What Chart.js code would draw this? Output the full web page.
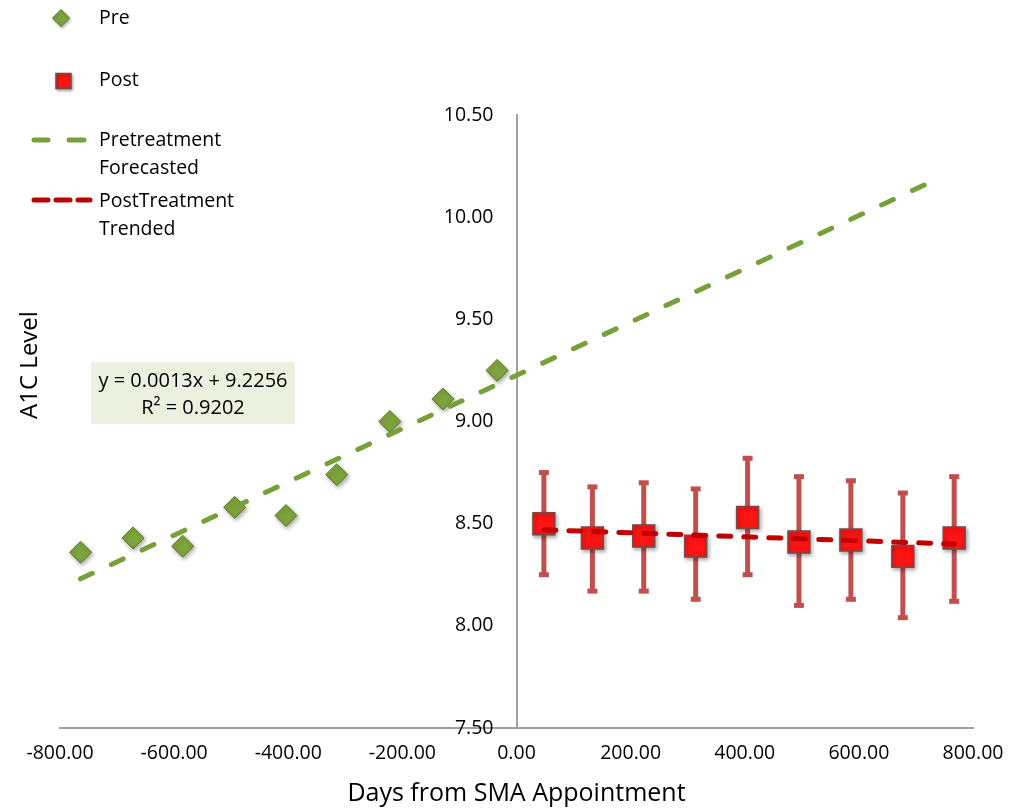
<!DOCTYPE html>
<html><head><meta charset="utf-8">
<script src="https://cdn.jsdelivr.net/npm/chart.js@4.4.1/dist/chart.umd.min.js"></script>
<style>html,body{margin:0;padding:0;background:#fff;} #wrap{position:relative;width:1009px;height:809px;}</style>
</head><body><div id="wrap"><canvas id="c" width="1009" height="809"></canvas></div>
<script>
// ---- data ----
const preDays = [-764, -672, -585, -494, -404, -315, -222, -129, -34];
const preA1C  = [8.36, 8.43, 8.39, 8.58, 8.54, 8.74, 9.00, 9.11, 9.25];
const postDays = [48, 133, 223, 314, 405, 495, 586, 677, 767];
const postA1C  = [8.50, 8.43, 8.44, 8.39, 8.53, 8.41, 8.42, 8.34, 8.43];
const postHigh = [8.75, 8.68, 8.70, 8.67, 8.82, 8.73, 8.71, 8.65, 8.73];
const postLow  = [8.25, 8.17, 8.17, 8.13, 8.25, 8.10, 8.13, 8.04, 8.12];
const preTrendDays = [-764, 732];
const preTrendA1C  = [8.23, 10.18];
const postTrendDays = [48, 767];
const postTrendA1C  = [8.47, 8.40];
const xTicks = [-800, -600, -400, -200, 0, 200, 400, 600, 800];
const yTicks = [7.5, 8.0, 8.5, 9.0, 9.5, 10.0, 10.5];
const legendLabels = [["Pre"], ["Post"], ["Pretreatment", "Forecasted"], ["PostTreatment", "Trended"]];
const equationLines = ["y = 0.0013x + 9.2256", "R² = 0.9202"];
const xTitle = "Days from SMA Appointment";
const yTitle = "A1C Level";

const FONT = "'Open Sans', 'DejaVu Sans', sans-serif";
const GREEN = '#7EA43C', GREEN_BORDER = '#5B7A27';
const RED = '#FF1414', RED_BORDER = '#7A4848';
const ERR = '#C0504D';
const GREEN_LINE = '#77A03A', RED_LINE = '#C00000';

const pts = (xs, ys) => xs.map((v, i) => ({x: v, y: ys[i]}));

const errorBars = {
  id: 'errorBars',
  beforeDatasetsDraw(chart) {
    const {ctx, scales: {x, y}} = chart;
    ctx.save();
    ctx.strokeStyle = ERR; ctx.fillStyle = ERR; ctx.lineWidth = 5;
    postDays.forEach((d, i) => {
      const px = x.getPixelForValue(d);
      const pt = y.getPixelForValue(postHigh[i]);
      const pb = y.getPixelForValue(postLow[i]);
      ctx.beginPath(); ctx.moveTo(px, pt); ctx.lineTo(px, pb); ctx.stroke();
      ctx.fillRect(px - 5, pt - 2.5, 10, 5);
      ctx.fillRect(px - 5, pb - 2.5, 10, 5);
    });
    ctx.restore();
  }
};

// soft drop shadow under the marker series
const markerShadow = {
  id: 'markerShadow',
  beforeDatasetDraw(chart, args) {
    if (args.index >= 2) {
      const ctx = chart.ctx;
      ctx.save();
      ctx.shadowColor = 'rgba(0,0,0,0.35)';
      ctx.shadowBlur = 4; ctx.shadowOffsetX = 1.5; ctx.shadowOffsetY = 2;
    }
  },
  afterDatasetDraw(chart, args) {
    if (args.index >= 2) chart.ctx.restore();
  }
};

// shift the centred y-axis labels left of the axis line (padding is ignored for object positions)
const yLabelShift = {
  id: 'yLabelShift',
  beforeDraw(chart) {
    const s = chart.scales.y;
    const items = s.getLabelItems(chart.chartArea);
    items.forEach(it => {
      if (!it._shifted) { it.options.translation[0] -= 23; it._shifted = true; }
    });
  }
};

const decorations = {
  id: 'decorations',
  afterDraw(chart) {
    const ctx = chart.ctx;
    ctx.save();
    // equation box
    ctx.fillStyle = '#EBF1DE';
    ctx.fillRect(91, 362, 204, 62);
    ctx.fillStyle = '#000';
    ctx.font = "20px " + FONT;
    ctx.textAlign = 'center'; ctx.textBaseline = 'middle';
    ctx.fillText(equationLines[0], 193, 381);
    ctx.fillText(equationLines[1], 193, 408);
    // y title
    ctx.save();
    ctx.translate(30, 365); ctx.rotate(-Math.PI / 2);
    ctx.font = "24px " + FONT;
    ctx.fillText(yTitle, 0, 0);
    ctx.restore();
    // legend markers (with soft shadow)
    ctx.save();
    ctx.shadowColor = 'rgba(0,0,0,0.35)'; ctx.shadowBlur = 3; ctx.shadowOffsetX = 1; ctx.shadowOffsetY = 1.5;
    ctx.beginPath();
    ctx.moveTo(61, 9.5); ctx.lineTo(69.5, 18); ctx.lineTo(61, 26.5); ctx.lineTo(52.5, 18); ctx.closePath();
    ctx.fillStyle = GREEN; ctx.fill(); ctx.strokeStyle = GREEN_BORDER; ctx.lineWidth = 1; ctx.stroke();
    ctx.fillStyle = RED; ctx.fillRect(56, 73.5, 15, 15);
    ctx.strokeStyle = RED_BORDER; ctx.lineWidth = 1.5; ctx.strokeRect(56, 73.5, 15, 15);
    ctx.restore();
    ctx.lineCap = 'round'; ctx.lineWidth = 5;
    ctx.strokeStyle = GREEN_LINE;
    [[34, 48], [69, 84]].forEach(([a, b]) => { ctx.beginPath(); ctx.moveTo(a, 140); ctx.lineTo(b, 140); ctx.stroke(); });
    ctx.strokeStyle = RED_LINE;
    [[34, 48], [56, 70], [78, 90]].forEach(([a, b]) => { ctx.beginPath(); ctx.moveTo(a, 200); ctx.lineTo(b, 200); ctx.stroke(); });
    // legend texts
    ctx.fillStyle = '#000'; ctx.font = "19.5px " + FONT;
    ctx.textAlign = 'left'; ctx.textBaseline = 'middle';
    const ys = [[18], [80], [140, 168], [201, 229]];
    legendLabels.forEach((lines, i) => lines.forEach((t, j) => ctx.fillText(t, 99, ys[i][j])));
    ctx.restore();
  }
};

new Chart(document.getElementById('c'), {
  type: 'scatter',
  data: {
    datasets: [
      { label: 'PostTreatment Trended', data: pts(postTrendDays, postTrendA1C), showLine: true,
        borderColor: RED_LINE, borderWidth: 5, borderDash: [12, 13], borderCapStyle: 'round',
        pointRadius: 0, fill: false },
      { label: 'Pretreatment Forecasted', data: pts(preTrendDays, preTrendA1C), showLine: true,
        borderColor: GREEN_LINE, borderWidth: 5, borderDash: [13, 21], borderCapStyle: 'round',
        pointRadius: 0, fill: false },
      { label: 'Post', data: pts(postDays, postA1C), pointStyle: 'rect', pointRadius: 15.5,
        backgroundColor: RED, borderColor: RED_BORDER, borderWidth: 1.5 },
      { label: 'Pre', data: pts(preDays, preA1C), pointStyle: 'rectRot', pointRadius: 11,
        backgroundColor: GREEN, borderColor: GREEN_BORDER, borderWidth: 1 }
    ]
  },
  options: {
    responsive: false, animation: false, events: [],
    layout: { padding: { left: 60, right: 36, top: 115, bottom: 0 } },
    plugins: { legend: { display: false }, tooltip: { enabled: false } },
    scales: {
      x: {
        type: 'linear', position: 'bottom', min: -800, max: 800,
        afterBuildTicks: s => { s.ticks = xTicks.map(v => ({value: v})); },
        afterFit: s => { s.height = 81; s.paddingLeft = 0; s.paddingRight = 0; },
        grid: { display: false, drawTicks: false },
        border: { display: true, color: '#A0A0A0', width: 2 },
        ticks: { autoSkip: false, maxRotation: 0, padding: 14, color: '#000',
                 font: { family: FONT, size: 19.5 }, callback: v => Number(v).toFixed(2) },
        title: { display: true, text: xTitle, color: '#000', font: { family: FONT, size: 25 }, padding: 0 }
      },
      y: {
        type: 'linear', position: { x: 0 }, min: 7.5, max: 10.5,
        afterBuildTicks: s => { s.ticks = yTicks.map(v => ({value: v})); },
        afterFit: s => { s.width = 0; s.paddingTop = 0; s.paddingBottom = 0; },
        grid: { display: false, drawTicks: false },
        border: { display: true, color: '#A0A0A0', width: 2 },
        ticks: { autoSkip: false, padding: 0, color: '#000',
                 font: { family: FONT, size: 19.5 }, callback: v => Number(v).toFixed(2) }
      }
    }
  },
  plugins: [yLabelShift, errorBars, markerShadow, decorations]
});
</script></body></html>
